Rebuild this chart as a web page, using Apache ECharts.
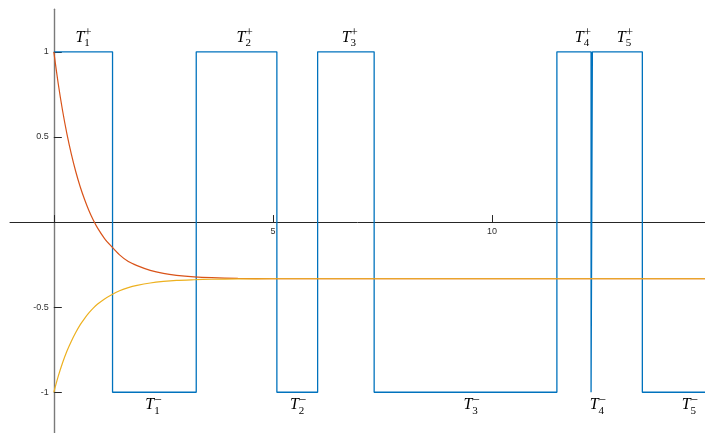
<!DOCTYPE html>
<html>
<head>
<meta charset="utf-8">
<script src="https://cdn.jsdelivr.net/npm/echarts@6.0.0/dist/echarts.min.js"></script>
<style>
  html, body { margin: 0; padding: 0; background: #fff; }
  #main { width: 705px; height: 433px; }
</style>
</head>
<body>
<div id="main"></div>
<script>
// square wave: switching instants and the level held from each one
var switchTimes = [0, 1.34, 3.25, 5.09, 6.02, 7.31, 11.48, 12.26, 12.29, 13.43];
var switchLevels = [1, -1, 1, -1, 1, -1, 1, -1, 1, -1];
var endTime = 14.86;

// the two decaying curves
var curveX = [0, 0.1, 0.2, 0.3, 0.4, 0.5, 0.6, 0.7, 0.8, 0.9, 1.0, 1.15, 1.3, 1.5, 1.7, 1.9, 2.2, 2.5, 2.8, 3.2, 3.6, 4.2, 5, 6, 14.86];
var redY = [1, 0.814, 0.654, 0.517, 0.399, 0.297, 0.209, 0.134, 0.068, 0.012, -0.036, -0.094, -0.139, -0.193, -0.232, -0.256, -0.284, -0.302, -0.313, -0.322, -0.327, -0.331, -0.333, -0.333, -0.333];
var yellowY = [-1, -0.907, -0.827, -0.758, -0.700, -0.649, -0.604, -0.567, -0.534, -0.506, -0.482, -0.453, -0.430, -0.404, -0.385, -0.372, -0.358, -0.349, -0.343, -0.339, -0.336, -0.334, -0.333, -0.333, -0.333];

// T labels (x of the boundary between T and its scripts)
var plusLabelX = [0.685, 4.36, 6.76, 12.08, 13.04];
var minusLabelX = [2.28, 5.58, 9.54, 12.42, 14.52];
var plusLabelY = 1.084;
var minusLabelY = -1.073;

var xTickValues = [0, 5, 10];
var xLabelValues = [5, 10];
var yTickValues = [-1, -0.5, 0.5, 1];

var waveData = switchTimes.map(function (t, i) { return [t, switchLevels[i]]; });
waveData.push([endTime, switchLevels[switchLevels.length - 1]]);

var redData = curveX.map(function (x, i) { return [x, redY[i]]; });
var yellowData = curveX.map(function (x, i) { return [x, yellowY[i]]; });

var labelData = [];
var labelSub = [];
var labelSup = [];
plusLabelX.forEach(function (x, i) {
  labelData.push([x, plusLabelY]);
  labelSub.push(String(i + 1));
  labelSup.push('+');
});
minusLabelX.forEach(function (x, i) {
  labelData.push([x, minusLabelY]);
  labelSub.push(String(i + 1));
  labelSup.push('\u2212');
});

var serif = '"Liberation Serif", "DejaVu Serif", serif';
var tickFont = { fontSize: 9, color: '#303030', fontFamily: 'Liberation Sans' };

var chart = echarts.init(document.getElementById('main'));
var gridTop = 9.3, gridBottom = -1.8, gridLeft = 10;
var plotH = 433 - gridTop - gridBottom;
var plotW = 705 - gridLeft;
// distance from grid edge to the zero lines, so the label axes sit on them
var xZeroOffset = -plotH * (1.25 / 2.5);
var yZeroOffset = -plotW * (1 / (endTime + 1));

chart.setOption({
  animation: false,
  backgroundColor: '#fff',
  grid: { left: gridLeft, right: 0, top: gridTop, bottom: gridBottom, containLabel: false, outerBoundsMode: 'none' },
  xAxis: [
    {
      type: 'value',
      min: -1,
      max: endTime,
      axisLine: { onZero: true, lineStyle: { color: '#262626', width: 1 } },
      axisTick: { show: true, inside: true, length: 7, customValues: xTickValues, lineStyle: { color: '#262626' } },
      axisLabel: { show: false },
      splitLine: { show: false }
    },
    {
      type: 'value',
      min: -1,
      max: endTime,
      position: 'bottom',
      offset: xZeroOffset,
      axisLine: { show: false },
      axisTick: { show: false },
      axisLabel: Object.assign({ customValues: xLabelValues, margin: 5 }, tickFont),
      splitLine: { show: false }
    }
  ],
  yAxis: [
    {
      type: 'value',
      min: -1.25,
      max: 1.25,
      axisLine: { onZero: true, lineStyle: { color: '#7a7a7a', width: 1.4 } },
      axisTick: { show: true, inside: true, length: 8, customValues: yTickValues, lineStyle: { color: '#262626' } },
      axisLabel: { show: false },
      splitLine: { show: false }
    },
    {
      type: 'value',
      min: -1.25,
      max: 1.25,
      position: 'left',
      offset: yZeroOffset,
      axisLine: { show: false },
      axisTick: { show: false },
      axisLabel: Object.assign({ customValues: yTickValues, margin: 5 }, tickFont),
      splitLine: { show: false }
    }
  ],
  series: [
    {
      type: 'line',
      data: waveData,
      step: 'end',
      showSymbol: false,
      lineStyle: { color: '#0072BD', width: 1.3 },
      z: 2
    },
    {
      type: 'line',
      data: redData,
      smooth: 0.3,
      showSymbol: false,
      lineStyle: { color: '#D95319', width: 1.2 },
      z: 3
    },
    {
      type: 'line',
      data: yellowData,
      smooth: 0.3,
      showSymbol: false,
      lineStyle: { color: '#EDB120', width: 1.2 },
      z: 4
    },
    {
      type: 'custom',
      data: labelData,
      clip: false,
      z: 5,
      renderItem: function (params, api) {
        var p = api.coord([api.value(0), api.value(1)]);
        var k = params.dataIndex;
        return {
          type: 'group',
          children: [
            {
              type: 'text', x: p[0] + 0.5, y: p[1],
              style: { text: 'T', font: 'italic 16px ' + serif, align: 'right', verticalAlign: 'middle', fill: '#000' }
            },
            {
              type: 'text', x: p[0] + 0.5, y: p[1] - 4.5,
              style: { text: labelSup[k], font: '13px ' + serif, align: 'left', verticalAlign: 'middle', fill: '#000' }
            },
            {
              type: 'text', x: p[0] + 0.5, y: p[1] + 6,
              style: { text: labelSub[k], font: '11px ' + serif, align: 'left', verticalAlign: 'middle', fill: '#000' }
            }
          ]
        };
      }
    }
  ]
});
</script>
</body>
</html>
